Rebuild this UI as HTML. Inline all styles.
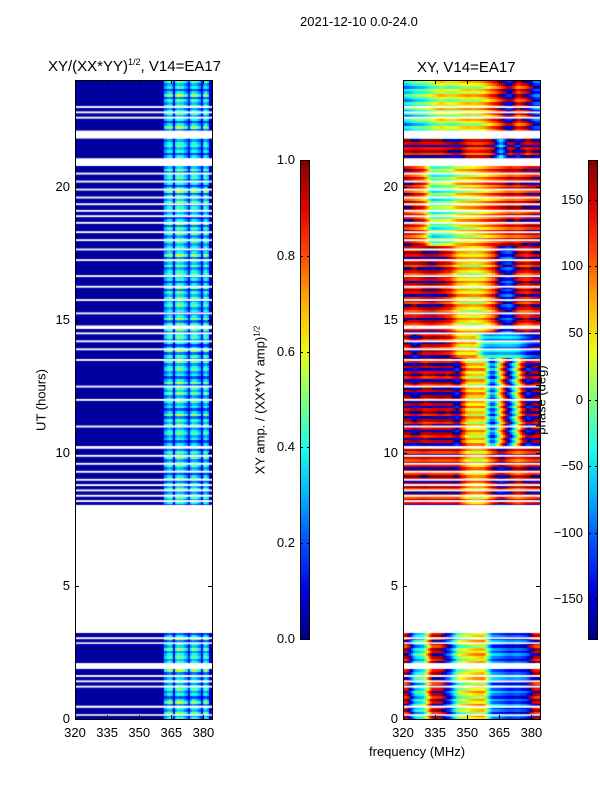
<!DOCTYPE html>
<html><head><meta charset="utf-8">
<style>
body{margin:0;background:#fff;font-family:"Liberation Sans","DejaVu Sans",sans-serif;}
#root{position:relative;width:600px;height:800px;overflow:hidden;background:#fff;}
.t{position:absolute;white-space:nowrap;color:#000;}
canvas{position:absolute;}
.frame{position:absolute;border:1px solid #000;box-sizing:border-box;}
.cb{position:absolute;border:1px solid #000;box-sizing:border-box;}
</style></head>
<body>
<div id="root">
<div class="t" style="left:300px;top:14px;font-size:13px">2021-12-10 0.0-24.0</div>
<div class="t" style="left:48px;top:57px;font-size:15px">XY/(XX*YY)<sup style="font-size:9px">1/2</sup>, V14=EA17</div>
<div class="t" style="left:417px;top:59px;font-size:15px">XY, V14=EA17</div>
<canvas id="c1" width="137" height="639" style="left:75px;top:80px"></canvas>
<canvas id="c2" width="137" height="639" style="left:403px;top:80px"></canvas>
<div class="frame" style="left:75px;top:80px;width:138px;height:640px"></div>
<div class="frame" style="left:403px;top:80px;width:138px;height:640px"></div>
<div class="cb" id="cb1" style="left:300px;top:160px;width:10px;height:480px"></div>
<div class="cb" id="cb2" style="left:588px;top:160px;width:10px;height:480px"></div>
<div class="t" style="top:400px;font-size:13px;transform:translate(-50%,-50%) rotate(-90deg);left:41px">UT (hours)</div>
<div class="t" style="left:260px;top:400px;font-size:13px;transform:translate(-50%,-50%) rotate(-90deg)">XY amp. / (XX*YY amp)<sup style="font-size:8px">1/2</sup></div>
<div class="t" style="left:541px;top:400px;font-size:13px;transform:translate(-50%,-50%) rotate(-90deg)">phase (deg)</div>
<div class="t" style="left:369px;top:744px;font-size:13px">frequency (MHz)</div>
</div>
<script>
const hours=[0,5,10,15,20];
const freqTicks=[320,335,350,365,380];
const ampTicks=[0.0,0.2,0.4,0.6,0.8,1.0];
const phaseTicks=[-150,-100,-50,0,50,100,150];
const gaps=[[3.23,8.04],[21.8,22.1],[20.77,21.06],[1.88,2.1],[22.95,23.02],[22.75,22.82],[22.55,22.62],[20.45,20.52],[20.15,20.22],[19.85,19.92],[19.55,19.62],[19.3,19.37],[19.05,19.12],[18.85,18.92],[18.6,18.67],[18.25,18.32],[17.95,18.02],[17.6,17.67],[17.2,17.27],[16.6,16.67],[16.2,16.27],[15.7,15.77],[15.2,15.27],[14.65,14.78],[14.45,14.52],[14.15,14.22],[13.85,13.92],[13.45,13.52],[12.45,12.52],[11.95,12.02],[10.95,11.02],[10.15,10.25],[9.85,9.92],[9.55,9.62],[9.25,9.32],[8.95,9.02],[8.75,8.82],[8.55,8.62],[8.35,8.42],[8.15,8.22],[3.0,3.07],[2.82,2.88],[1.58,1.65],[1.38,1.45],[1.18,1.25],[0.42,0.5],[0.12,0.18]];
const chanAmp=[0.03,0.03,0.03,0.03,0.03,0.03,0.03,0.03,0.03,0.03,0.03,0.03,0.03,0.03,0.03,0.03,0.03,0.03,0.03,0.03,0.03,0.03,0.03,0.03,0.03,0.03,0.03,0.03,0.03,0.03,0.03,0.03,0.03,0.03,0.03,0.03,0.03,0.03,0.03,0.03,0.03,0.06,0.3,0.38,0.42,0.35,0.12,0.38,0.45,0.42,0.4,0.33,0.28,0.14,0.35,0.42,0.4,0.33,0.28,0.12,0.36,0.42,0.32,0.06];
const rowAmpScale=[1,0.7,1.25,0.8,1.1,0.6,1.35,0.9,0.5,1.0,0.75,1.15];
const phaseSegStart=[0,8,10.3,13.6,14.5,17.8,20.8,21.8];
const phaseSegs=[
[150,-60,-30,150,160,-120,0,30,50,60,-90,-100,-120,-110,-130,150],
[150,150,160,150,150,150,160,80,60,70,140,-160,150,120,150,160],
[160,-170,150,160,170,160,-150,60,50,60,-120,60,-130,40,-150,170],
[150,-150,150,160,150,140,60,50,60,-60,-70,-60,-60,-70,-120,-150],
[150,140,160,170,150,130,60,50,40,60,100,-150,-120,150,130,160],
[150,130,100,-20,-10,0,40,50,60,80,100,120,140,130,150,160],
[150,160,150,150,150,170,-170,130,120,130,150,-60,150,-150,140,170],
[-60,-30,-20,10,40,20,30,50,40,60,100,150,-150,120,160,-120]];
const rowPhaseJitter=[0,35,-40,15,-20,45,-10,25,-35,5,40,-15,20,-45];

function jet(v){v=Math.max(0,Math.min(1,v));
 const r=Math.max(0,Math.min(1,1.5-Math.abs(4*v-3))),g=Math.max(0,Math.min(1,1.5-Math.abs(4*v-2))),b=Math.max(0,Math.min(1,1.5-Math.abs(4*v-1)));
 return `rgb(${r*255|0},${g*255|0},${b*255|0})`;}
const W=137,H=639,TMAX=24,F0=320,F1=384;
const yS=h=>H-h/TMAX*H, xS=f=>(f-F0)/(F1-F0)*W;
const nRows=240,dt=0.1;
function draw(id,valFn){
 const c=document.getElementById(id).getContext('2d');
 for(let r=0;r<nRows;r++){const h=r*dt;
  for(let ch=0;ch<64;ch++){c.fillStyle=jet(valFn(r,h,ch));
   const x0=xS(F0+ch),x1=xS(F0+ch+1),y0=yS(h+dt),y1=yS(h);
   c.fillRect(Math.floor(x0),Math.floor(y0),Math.ceil(x1-x0)+1,Math.ceil(y1-y0)+1);}}
 c.fillStyle='#fff';
 gaps.forEach(g=>{const y0=yS(g[1]),y1=yS(g[0]);c.fillRect(0,y0,W,Math.max(1.5,y1-y0));});
}
draw('c1',(r,h,ch)=>chanAmp[ch]*(chanAmp[ch]>0.1?rowAmpScale[r%rowAmpScale.length]:1));
draw('c2',(r,h,ch)=>{let s=0;for(let i=0;i<phaseSegStart.length;i++)if(h>=phaseSegStart[i])s=i;
 const seg=phaseSegs[s];const pos=(ch+0.5)/4-0.5;const i0=Math.max(0,Math.min(15,Math.floor(pos))),i1=Math.min(15,i0+1);
 const t=Math.max(0,Math.min(1,pos-i0));
 let a=seg[i0],b=seg[i1];let d=b-a;if(d>180)d-=360;if(d<-180)d+=360;
 let p=a+d*t+rowPhaseJitter[r%rowPhaseJitter.length];
 p=((p+180)%360+360)%360-180;return (p+180)/360;});

let stops=[];for(let i=0;i<=10;i++)stops.push(jet(i/10)+' '+(i*10)+'%');
document.getElementById('cb1').style.background='linear-gradient(to top,'+stops.join(',')+')';
document.getElementById('cb2').style.background='linear-gradient(to top,'+stops.join(',')+')';

const root=document.getElementById('root');
function txt(x,y,s,align,name){const d=document.createElement('div');d.className='t';d.textContent=s;d.style.fontSize='13px';
 d.style.top=(y-8)+'px';
 if(align==='r'){d.style.right=(600-x)+'px';}else{d.style.left=x+'px';d.style.transform='translateX(-50%)';}
 
 
 root.appendChild(d);}
function tick(x,y,w,h,name){const d=document.createElement('div');d.style.cssText=`position:absolute;left:${x}px;top:${y}px;width:${w}px;height:${h}px;background:#000`;
 
 
 root.appendChild(d);}
[75,403].forEach((px,k)=>{
 hours.forEach(h=>{const y=80+yS(h);txt(px-5,y,String(h),'r','y-tick-label');
  tick(px,y,4,1,'y-tick');tick(px+133,y,4,1,'y-tick');});
 freqTicks.forEach(f=>{const x=px+xS(f);txt(x,733,String(f),'c','x-tick-label');
  tick(x,715,1,4,'x-tick');tick(x,80,1,4,'x-tick');});
});
ampTicks.forEach(v=>{const y=639-v*479;txt(295,y,v.toFixed(1),'r','amp-colorbar-tick-label');tick(300,y,3,1,'colorbar-tick');tick(307,y,3,1,'colorbar-tick');});
phaseTicks.forEach(v=>{const y=639-(v+180)/360*479;txt(583,y,v<0?'\u2212'+(-v):String(v),'r','phase-colorbar-tick-label');tick(588,y,3,1,'colorbar-tick');tick(595,y,3,1,'colorbar-tick');});
</script>
</body></html>
